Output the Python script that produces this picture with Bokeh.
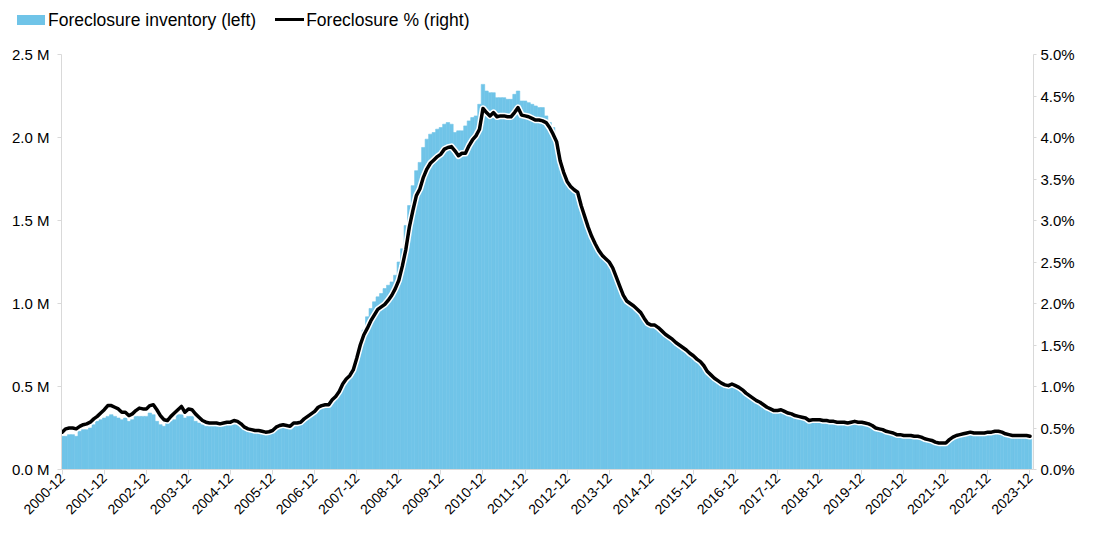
import math
from bokeh.plotting import figure
from bokeh.layouts import column
from bokeh.models import (Range1d, LinearAxis, FixedTicker, PrintfTickFormatter,
                          ColumnDataSource, Div)
from bokeh.embed import file_html
from bokeh.resources import INLINE

# ---------------- data (monthly, 2000-12 .. 2023-12) ----------------
tick_labels = ["2000-12", "2001-12", "2002-12", "2003-12", "2004-12", "2005-12",
               "2006-12", "2007-12", "2008-12", "2009-12", "2010-12", "2011-12",
               "2012-12", "2013-12", "2014-12", "2015-12", "2016-12", "2017-12",
               "2018-12", "2019-12", "2020-12", "2021-12", "2022-12", "2023-12"]

# Foreclosure inventory, millions of loans (left axis)
inventory_m = (
    [0.20]
    + [0.20, 0.21, 0.21, 0.20, 0.23, 0.24, 0.24, 0.25, 0.27, 0.29, 0.30, 0.31]   # 2001
    + [0.32, 0.33, 0.32, 0.31, 0.30, 0.31, 0.29, 0.30, 0.32, 0.32, 0.32, 0.32]   # 2002
    + [0.34, 0.33, 0.29, 0.27, 0.26, 0.29, 0.29, 0.30, 0.33, 0.33, 0.31, 0.32]   # 2003
    + [0.32, 0.29, 0.28, 0.27, 0.26, 0.26, 0.26, 0.26, 0.26, 0.27, 0.27, 0.27]   # 2004
    + [0.27, 0.27, 0.26, 0.25, 0.24, 0.24, 0.23, 0.23, 0.23, 0.22, 0.22, 0.23]   # 2005
    + [0.25, 0.26, 0.26, 0.26, 0.26, 0.27, 0.28, 0.29, 0.30, 0.32, 0.33, 0.35]   # 2006
    + [0.37, 0.39, 0.40, 0.40, 0.41, 0.44, 0.46, 0.50, 0.55, 0.58, 0.62, 0.68]   # 2007
    + [0.76, 0.84, 0.92, 0.97, 1.01, 1.04, 1.06, 1.09, 1.11, 1.13, 1.17, 1.25]   # 2008
    + [1.33, 1.47, 1.59, 1.71, 1.80, 1.85, 1.94, 1.99, 2.02, 2.03, 2.05, 2.06]   # 2009
    + [2.08, 2.09, 2.08, 2.03, 2.04, 2.04, 2.07, 2.10, 2.12, 2.13, 2.20, 2.32]   # 2010
    + [2.28, 2.27, 2.27, 2.24, 2.24, 2.24, 2.23, 2.23, 2.26, 2.28, 2.22, 2.22]   # 2011
    + [2.21, 2.20, 2.19, 2.18, 2.18, 2.13, 2.09, 2.06, 1.98, 1.85, 1.78, 1.75]   # 2012
    + [1.72, 1.70, 1.68, 1.60, 1.52, 1.46, 1.40, 1.36, 1.32, 1.29, 1.27, 1.25]   # 2013
    + [1.21, 1.16, 1.10, 1.05, 1.01, 1.00, 0.98, 0.96, 0.94, 0.91, 0.88, 0.87]   # 2014
    + [0.87, 0.85, 0.83, 0.81, 0.80, 0.78, 0.76, 0.75, 0.73, 0.72, 0.70, 0.68]   # 2015
    + [0.66, 0.65, 0.62, 0.59, 0.57, 0.55, 0.53, 0.52, 0.51, 0.50, 0.51, 0.50]   # 2016
    + [0.49, 0.48, 0.46, 0.44, 0.43, 0.41, 0.40, 0.39, 0.37, 0.36, 0.35, 0.35]   # 2017
    + [0.36, 0.35, 0.34, 0.33, 0.32, 0.32, 0.31, 0.31, 0.29, 0.30, 0.30, 0.30]   # 2018
    + [0.29, 0.29, 0.29, 0.29, 0.28, 0.28, 0.28, 0.28, 0.28, 0.29, 0.28, 0.28]   # 2019
    + [0.28, 0.27, 0.26, 0.25, 0.24, 0.24, 0.23, 0.22, 0.22, 0.21, 0.21, 0.20]   # 2020
    + [0.20, 0.20, 0.20, 0.20, 0.19, 0.18, 0.18, 0.17, 0.16, 0.16, 0.16, 0.16]   # 2021
    + [0.18, 0.19, 0.20, 0.21, 0.21, 0.22, 0.22, 0.22, 0.22, 0.22, 0.22, 0.22]   # 2022
    + [0.22, 0.23, 0.23, 0.22, 0.21, 0.21, 0.20, 0.20, 0.20, 0.20, 0.20, 0.20]   # 2023
)

# Foreclosure rate, percent of loans (right axis)
foreclosure_pct = (
    [0.45]
    + [0.49, 0.50, 0.50, 0.49, 0.52, 0.54, 0.55, 0.57, 0.61, 0.64, 0.68, 0.72]   # 2001
    + [0.77, 0.77, 0.75, 0.73, 0.69, 0.69, 0.65, 0.67, 0.71, 0.74, 0.73, 0.73]   # 2002
    + [0.77, 0.78, 0.72, 0.65, 0.60, 0.59, 0.64, 0.68, 0.72, 0.76, 0.69, 0.73]   # 2003
    + [0.72, 0.67, 0.63, 0.59, 0.57, 0.56, 0.56, 0.56, 0.55, 0.56, 0.57, 0.57]   # 2004
    + [0.59, 0.58, 0.55, 0.51, 0.49, 0.48, 0.47, 0.47, 0.46, 0.45, 0.455, 0.47] # 2005
    + [0.51, 0.53, 0.54, 0.53, 0.52, 0.56, 0.56, 0.57, 0.61, 0.64, 0.67, 0.70]   # 2006
    + [0.75, 0.77, 0.78, 0.78, 0.84, 0.88, 0.94, 1.03, 1.09, 1.13, 1.20, 1.34]   # 2007
    + [1.50, 1.62, 1.70, 1.79, 1.86, 1.93, 1.96, 1.99, 2.04, 2.10, 2.18, 2.28]   # 2008
    + [2.45, 2.65, 2.92, 3.12, 3.30, 3.38, 3.52, 3.62, 3.69, 3.73, 3.77, 3.80]   # 2009
    + [3.86, 3.88, 3.89, 3.84, 3.78, 3.81, 3.81, 3.90, 3.97, 4.02, 4.10, 4.35]   # 2010
    + [4.30, 4.26, 4.30, 4.25, 4.26, 4.26, 4.25, 4.25, 4.30, 4.36, 4.27, 4.26]   # 2011
    + [4.25, 4.23, 4.21, 4.21, 4.20, 4.18, 4.12, 4.04, 3.95, 3.72, 3.58, 3.47]   # 2012
    + [3.41, 3.37, 3.34, 3.18, 3.05, 2.92, 2.81, 2.72, 2.64, 2.58, 2.54, 2.50]   # 2013
    + [2.43, 2.32, 2.21, 2.10, 2.03, 2.00, 1.97, 1.93, 1.89, 1.82, 1.76, 1.74]   # 2014
    + [1.74, 1.71, 1.67, 1.63, 1.60, 1.57, 1.53, 1.50, 1.47, 1.44, 1.40, 1.37]   # 2015
    + [1.33, 1.30, 1.25, 1.18, 1.14, 1.10, 1.07, 1.04, 1.02, 1.01, 1.03, 1.01]   # 2016
    + [0.99, 0.96, 0.92, 0.89, 0.86, 0.83, 0.81, 0.78, 0.75, 0.73, 0.71, 0.71]   # 2017
    + [0.72, 0.70, 0.68, 0.67, 0.65, 0.64, 0.63, 0.62, 0.59, 0.60, 0.60, 0.60]   # 2018
    + [0.59, 0.59, 0.58, 0.58, 0.57, 0.57, 0.57, 0.56, 0.57, 0.58, 0.57, 0.57]   # 2019
    + [0.56, 0.55, 0.53, 0.50, 0.49, 0.48, 0.46, 0.45, 0.44, 0.42, 0.42, 0.41]   # 2020
    + [0.41, 0.41, 0.40, 0.40, 0.39, 0.37, 0.36, 0.35, 0.33, 0.32, 0.32, 0.32]   # 2021
    + [0.36, 0.39, 0.41, 0.42, 0.43, 0.44, 0.45, 0.44, 0.44, 0.44, 0.44, 0.45]   # 2022
    + [0.45, 0.46, 0.46, 0.45, 0.43, 0.42, 0.41, 0.41, 0.41, 0.41, 0.41, 0.40]   # 2023
)

left_ticks = [0.0, 0.5, 1.0, 1.5, 2.0, 2.5]
right_ticks = [0.0, 0.5, 1.0, 1.5, 2.0, 2.5, 3.0, 3.5, 4.0, 4.5, 5.0]
series_names = ["Foreclosure inventory (left)", "Foreclosure % (right)"]

# ---------------- styling ----------------
BLUE = "#70C4E8"
AXIS_GREY = "#d9d9d9"
FONT = "Liberation Sans"
W = 1077
LEG_H = 39

n = len(foreclosure_pct)
idx = list(range(n))
src = ColumnDataSource(dict(x=idx, inv=inventory_m, pct=foreclosure_pct))

# ---- legend strip ----
legend_html = (
    f"<div style=\"display:flex;align-items:center;height:{LEG_H}px;"
    f"padding-left:17px;font-family:'{FONT}',Arial,sans-serif;font-size:17.5px;"
    f"color:#000;white-space:nowrap;line-height:20px\">"
    f"<span style=\"display:inline-block;width:28px;height:10px;background:{BLUE}\"></span>"
    f"<span style=\"margin-left:3px;margin-right:19px\">{series_names[0]}</span>"
    f"<span style=\"display:inline-block;width:29px;height:3px;background:#000\"></span>"
    f"<span style=\"margin-left:2px\">{series_names[1]}</span></div>"
)
leg = Div(text=legend_html, width=W, height=LEG_H, margin=0)

# ---- main chart ----
p = figure(width=W, height=521 - LEG_H, output_backend="svg", toolbar_location=None,
           x_range=Range1d(-0.2, n), y_range=Range1d(0, 2.5),
           min_border_left=61, min_border_right=40, min_border_top=54 - LEG_H,
           min_border_bottom=50, outline_line_color=None)
p.extra_y_ranges = {"pct": Range1d(0, 5)}
p.grid.visible = False
p.background_fill_color = "white"

p.vbar(x="x", top="inv", width=1.0, source=src, fill_color=BLUE,
       line_color=BLUE, line_width=0.6)
p.line(x="x", y="pct", source=src, y_range_name="pct", line_color="white",
       line_width=6.5, line_join="round", line_cap="round")
p.line(x="x", y="pct", source=src, y_range_name="pct", line_color="black",
       line_width=3.5, line_join="round", line_cap="round")

def style_axis(ax, size):
    ax.axis_line_color = AXIS_GREY
    ax.major_tick_line_color = AXIS_GREY
    ax.minor_tick_line_color = None
    ax.major_tick_in = 0
    ax.major_label_text_font = FONT
    ax.major_label_text_font_size = size
    ax.major_label_text_color = "black"

yl = p.yaxis[0]
yl.ticker = FixedTicker(ticks=left_ticks)
yl.formatter = PrintfTickFormatter(format="%.1f M")
style_axis(yl, "15px")
yl.major_tick_out = 4
yl.major_label_standoff = 8

yr = LinearAxis(y_range_name="pct", ticker=FixedTicker(ticks=right_ticks),
                formatter=PrintfTickFormatter(format="%.1f%%"))
style_axis(yr, "15px")
yr.major_tick_out = 3
yr.major_label_standoff = 4
p.add_layout(yr, "right")

xb = p.xaxis[0]
xticks = [12 * k for k in range(len(tick_labels))]
xb.ticker = FixedTicker(ticks=xticks)
xb.major_label_overrides = {t: lab for t, lab in zip(xticks, tick_labels)}
style_axis(xb, "14px")
xb.major_tick_out = 5
xb.major_label_standoff = 1
xb.major_label_orientation = math.pi / 4

layout = column(leg, p, spacing=0)
open("out.html", "w").write(file_html(layout, INLINE))
